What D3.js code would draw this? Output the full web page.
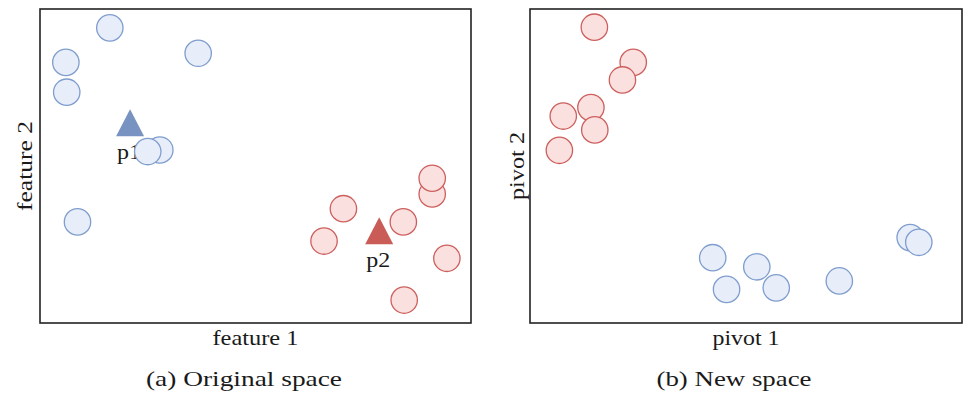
<!DOCTYPE html>
<html>
<head>
<meta charset="utf-8">
<script src="https://cdn.jsdelivr.net/npm/d3@7"></script>
<style>
  body { margin: 0; background: #fff; }
  text { font-family: "Liberation Serif", "DejaVu Serif", serif; fill: #1a1a1a; }
</style>
</head>
<body>
<svg id="chart"></svg>
<script>
// data, in arbitrary 0-100 units for each panel
const origBlue = [[16.2, 94.0], [6.0, 83.0], [6.2, 73.5], [36.7, 85.9], [27.8, 55.1], [25.0, 54.6], [8.7, 32.2]];
const origRed = [[70.4, 36.4], [65.9, 26.1], [84.3, 32.2], [91.0, 41.1], [91.0, 46.1], [94.4, 20.6], [84.5, 7.3]];
const pivots = [
  { name: "p1", x: 20.9, y: 63.8, cls: "blue" },
  { name: "p2", x: 78.7, y: 29.4, cls: "red" }
];
const newRed = [[14.9, 94.2], [23.9, 83.0], [21.4, 77.4], [14.1, 68.6], [7.7, 65.9], [15.0, 61.5], [6.8, 55.0]];
const newBlue = [[42.3, 20.8], [45.5, 10.7], [52.5, 17.9], [57.0, 11.2], [71.6, 13.4], [88.0, 27.2], [90.0, 25.7]];

const colors = {
  blue: { fill: "#e7eefa", stroke: "#7f9dcd", solid: "#7892c1" },
  red: { fill: "#fae0df", stroke: "#cd5f5d", solid: "#c95c56" }
};

const width = 963;
const height = 395;

const svg = d3.select("#chart")
  .attr("width", width)
  .attr("height", height);

const panels = [
  { left: 40, right: 471, xLabel: "feature 1", yLabel: "feature 2", xLen: 86, yLen: 90, yLabelX: 32,
    caption: "(a) Original space", capX: 244, capLen: 196,
    series: [["blue", origBlue], ["red", origRed]], pivots: pivots },
  { left: 530, right: 962, xLabel: "pivot 1", yLabel: "pivot 2", xLen: 67, yLen: 68, yLabelX: 524,
    caption: "(b) New space", capX: 734, capLen: 155,
    series: [["red", newRed], ["blue", newBlue]], pivots: [] }
];

const plotTop = 9, plotBottom = 323;
const r = 13.2;

panels.forEach(p => {
  const x = d3.scaleLinear().domain([0, 100]).range([p.left, p.right]);
  const y = d3.scaleLinear().domain([0, 100]).range([plotBottom, plotTop]);
  const g = svg.append("g");

  g.append("rect")
    .attr("x", p.left)
    .attr("y", plotTop)
    .attr("width", p.right - p.left)
    .attr("height", plotBottom - plotTop)
    .style("fill", "none")
    .style("stroke", "#222")
    .style("stroke-width", 1.6);

  // axis labels
  g.append("text")
    .attr("x", (p.left + p.right) / 2)
    .attr("y", 345)
    .attr("text-anchor", "middle")
    .attr("textLength", p.xLen)
    .attr("lengthAdjust", "spacingAndGlyphs")
    .style("font-size", "21px")
    .text(p.xLabel);

  g.append("text")
    .attr("transform", `translate(${p.yLabelX},${(plotTop + plotBottom) / 2}) rotate(-90)`)
    .attr("text-anchor", "middle")
    .attr("textLength", p.yLen)
    .attr("lengthAdjust", "spacingAndGlyphs")
    .style("font-size", "21px")
    .text(p.yLabel);

  g.append("text")
    .attr("x", p.capX)
    .attr("y", 386)
    .attr("text-anchor", "middle")
    .attr("textLength", p.capLen)
    .attr("lengthAdjust", "spacingAndGlyphs")
    .style("font-size", "22px")
    .text(p.caption);

  // pivot labels go under the circles
  g.selectAll(".plabel")
    .data(p.pivots)
    .enter()
    .append("text")
    .attr("class", "plabel")
    .attr("x", d => x(d.x) - 1)
    .attr("y", d => y(d.y) + 36)
    .attr("text-anchor", "middle")
    .attr("textLength", 24)
    .attr("lengthAdjust", "spacingAndGlyphs")
    .style("font-size", "21px")
    .text(d => d.name);

  g.selectAll(".pivot")
    .data(p.pivots)
    .enter()
    .append("path")
    .attr("class", "pivot")
    .attr("d", d => {
      const cx = x(d.x), cy = y(d.y);
      return `M${cx},${cy - 13.5}L${cx + 14},${cy + 13.5}L${cx - 14},${cy + 13.5}Z`;
    })
    .style("fill", d => colors[d.cls].solid);

  p.series.forEach(([cls, pts]) => {
    g.selectAll(".pt-" + cls)
      .data(pts)
      .enter()
      .append("circle")
      .attr("class", "pt-" + cls)
      .attr("cx", d => x(d[0]))
      .attr("cy", d => y(d[1]))
      .attr("r", r)
      .style("fill", colors[cls].fill)
      .style("stroke", colors[cls].stroke)
      .style("stroke-width", 1.3);
  });
});
</script>
</body>
</html>
